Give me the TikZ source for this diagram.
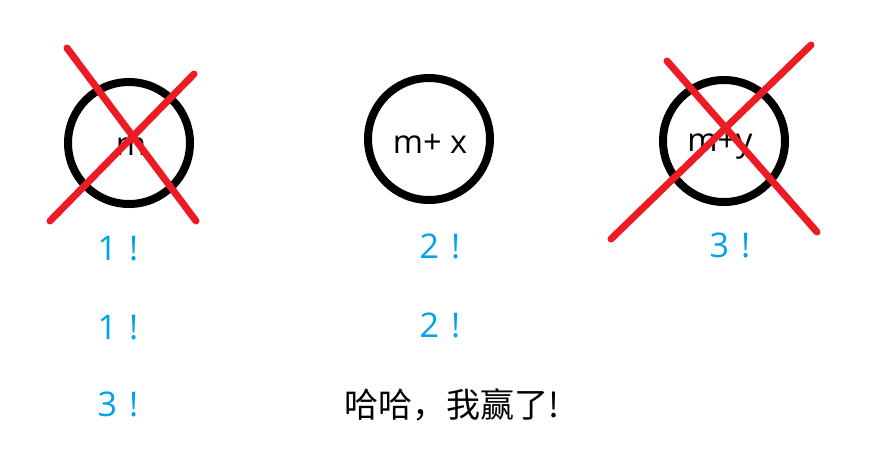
\documentclass[tikz,border=0pt]{standalone}
\usepackage{fontspec}
\setmainfont{Open Sans}
\newfontfamily\cjk{Noto Sans CJK SC}
\definecolor{xred}{HTML}{ED1C24}
\definecolor{xblue}{HTML}{00A2E8}
\begin{document}
\begin{tikzpicture}[x=1pt,y=-1pt,
  ring/.style={circle, draw=black, line width=8pt, minimum size=122pt, inner sep=0pt},
  cross/.style={draw=xred, line width=7pt, line cap=round},
  lbl/.style={anchor=base, inner sep=0pt, font=\fontsize{32.5}{38}\selectfont},
  num/.style={anchor=base, inner sep=0pt, text=xblue, font=\fontsize{34}{40}\selectfont},
  big/.style={anchor=base, inner sep=0pt, font=\cjk\fontsize{34}{40}\selectfont}]
\useasboundingbox (0,0) rectangle (887,475);
% circles
\node[ring] (c1) at (129,143) {};
\node[ring] (c2) at (429,139) {};
\node[ring] (c3) at (724,141) {};
% labels
\node[lbl] (t1) at (131,155) {m};
\node[lbl] (t2) at (430,153) {m+ x};
\node[lbl] (t3) at (720,151) {m+y};
% crosses
\coordinate (a1) at (67,48);  \coordinate (a2) at (196,221);
\coordinate (b1) at (50,221); \coordinate (b2) at (194,74);
\coordinate (a3) at (667,61); \coordinate (a4) at (817,232);
\coordinate (b3) at (611,239); \coordinate (b4) at (811,45);
\draw[cross] (a1) -- (a2);
\draw[cross] (b1) -- (b2);
\draw[cross] (a3) -- (a4);
\draw[cross] (b3) -- (b4);
% numbers
\node[num] (n11) at (118,260) {1\hspace{12pt}!};
\node[num] (n12) at (118,339) {1\hspace{12pt}!};
\node[num] (n13) at (118,416) {3\hspace{12pt}!};
\node[num] (n21) at (440,258) {2\hspace{12pt}!};
\node[num] (n22) at (440,337) {2\hspace{12pt}!};
\node[num] (n31) at (730,257) {3\hspace{12pt}!};
\node[big] (win) at (452,417) {哈哈，我赢了!};
\end{tikzpicture}
\end{document}
